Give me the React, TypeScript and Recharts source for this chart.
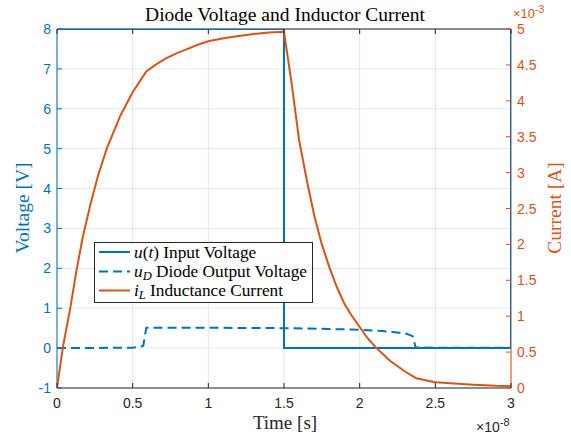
import React from 'react';
import { LineChart, Line, XAxis, YAxis, CartesianGrid } from 'recharts';

const BLUE = '#0072BD';
const ORANGE = '#D95319';
const DARK = '#262626';
const SANS = '"Liberation Sans", Arial, Helvetica, sans-serif';
const SERIF = '"Liberation Serif", "Times New Roman", serif';

// x axis in units of 1e-8 s
const timeTicks = [0, 0.5, 1, 1.5, 2, 2.5, 3];
const voltTicks = [-1, 0, 1, 2, 3, 4, 5, 6, 7, 8];
// current axis in units of 1e-3 A
const currentTicks = [0, 0.5, 1, 1.5, 2, 2.5, 3, 3.5, 4, 4.5, 5];

// u(t) input voltage
const uTime = [0, 1.5, 1.5, 3, 3];
const uVolt = [8, 8, 0, 0, 8];

// u_D diode output voltage
const udTime = [0, 0.5, 0.55, 0.57, 0.59, 1.0, 1.5, 1.8, 2.0, 2.15, 2.25, 2.31, 2.35, 2.37, 2.5, 3.0];
const udVolt = [0, 0.01, 0.03, 0.06, 0.51, 0.51, 0.5, 0.48, 0.46, 0.43, 0.39, 0.36, 0.3, 0.02, 0.01, 0.01];

// i_L inductance current (mA)
const iTime = [0, 0.04, 0.09, 0.13, 0.17, 0.22, 0.27, 0.33, 0.42, 0.5, 0.59, 0.65, 0.72, 0.8, 0.86, 0.93,
  1.0, 1.1, 1.19, 1.3, 1.4, 1.5,
  1.55, 1.6, 1.65, 1.7, 1.75, 1.8, 1.85, 1.9, 1.95, 2.0, 2.05, 2.1, 2.2, 2.3, 2.37,
  2.45, 2.5, 2.6, 2.75, 2.9, 3.0];
const iCurr = [0, 0.58, 1.14, 1.65, 2.1, 2.55, 2.95, 3.34, 3.8, 4.12, 4.41, 4.5, 4.59, 4.67, 4.72, 4.78,
  4.83, 4.87, 4.9, 4.93, 4.95, 4.96,
  4.25, 3.45, 2.9, 2.4, 2.0, 1.68, 1.4, 1.17, 1.0, 0.85, 0.7, 0.58, 0.38, 0.23, 0.14,
  0.1, 0.08, 0.065, 0.045, 0.03, 0.025];

const toPoints = (ts: number[], vs: number[]) => ts.map((t, i) => ({ t, v: vs[i] }));
const uData = toPoints(uTime, uVolt);
const udData = toPoints(udTime, udVolt);
const iData = toPoints(iTime, iCurr);

const TICK_LEN = 5;

const BottomTick = (props: any) => {
  const { x, y, payload } = props;
  const ay = y - 10;
  return (
    <g>
      <line x1={x} x2={x} y1={ay} y2={ay - TICK_LEN} stroke={DARK} strokeWidth={1} />
      <text x={x} y={y} dy="0.71em" textAnchor="middle" fill={DARK} fontSize={14} fontFamily={SANS}>
        {payload.value}
      </text>
    </g>
  );
};

const TopTick = (props: any) => {
  const { x, y } = props;
  return <line x1={x} x2={x} y1={y} y2={y + TICK_LEN} stroke={DARK} strokeWidth={1} />;
};

const LeftTick = (props: any) => {
  const { x, y, payload } = props;
  const ax = x + 6;
  return (
    <g>
      <line x1={ax} x2={ax + TICK_LEN} y1={y} y2={y} stroke={BLUE} strokeWidth={1} />
      <text x={x} y={y} dy="0.36em" textAnchor="end" fill={BLUE} fontSize={14} fontFamily={SANS}>
        {payload.value}
      </text>
    </g>
  );
};

const RightTick = (props: any) => {
  const { x, y, payload } = props;
  const ax = x - 6;
  return (
    <g>
      <line x1={ax} x2={ax - TICK_LEN} y1={y} y2={y} stroke={ORANGE} strokeWidth={1} />
      <text x={x} y={y} dy="0.36em" textAnchor="start" fill={ORANGE} fontSize={14} fontFamily={SANS}>
        {payload.value}
      </text>
    </g>
  );
};

export default function App() {
  return (
    <div style={{ position: 'absolute', left: 0, top: 0, width: 571, height: 437, background: '#fff' }}>
      <LineChart width={571} height={437} margin={{ top: 28, right: 0, bottom: 19, left: 0 }}>
        <CartesianGrid xAxisId="b" yAxisId="left" vertical={false} stroke="#dcebf6" strokeWidth={1} />
        <CartesianGrid xAxisId="b" yAxisId="left" horizontal={false} stroke="#e4e4e4" strokeWidth={1} />
        <XAxis
          xAxisId="b"
          dataKey="t"
          type="number"
          domain={[0, 3]}
          ticks={timeTicks}
          allowDataOverflow
          height={30}
          tickSize={0}
          tickMargin={10}
          tickLine={false}
          axisLine={{ stroke: DARK }}
          tick={<BottomTick />}
          interval={0}
        />
        <XAxis
          xAxisId="top"
          orientation="top"
          dataKey="t"
          type="number"
          domain={[0, 3]}
          ticks={timeTicks}
          allowDataOverflow
          height={1}
          tickSize={0}
          tickMargin={0}
          tickLine={false}
          axisLine={{ stroke: DARK }}
          tick={<TopTick />}
          interval={0}
        />
        <YAxis
          yAxisId="left"
          type="number"
          domain={[-1, 8]}
          ticks={voltTicks}
          allowDataOverflow
          width={57}
          tickSize={0}
          tickMargin={6}
          tickLine={false}
          axisLine={{ stroke: BLUE }}
          tick={<LeftTick />}
          interval={0}
        />
        <YAxis
          yAxisId="right"
          orientation="right"
          type="number"
          domain={[0, 5]}
          ticks={currentTicks}
          allowDataOverflow
          width={60}
          tickSize={0}
          tickMargin={6}
          tickLine={false}
          axisLine={{ stroke: ORANGE }}
          tick={<RightTick />}
          interval={0}
        />
        <Line
          xAxisId="b"
          yAxisId="left"
          data={uData}
          dataKey="v"
          type="linear"
          stroke={BLUE}
          strokeWidth={2}
          dot={false}
          zIndex={600}
          isAnimationActive={false}
        />
        <Line
          xAxisId="b"
          yAxisId="left"
          data={udData}
          dataKey="v"
          type="linear"
          stroke={BLUE}
          strokeWidth={2}
          strokeDasharray="9 5"
          dot={false}
          zIndex={600}
          isAnimationActive={false}
        />
        <Line
          xAxisId="b"
          yAxisId="right"
          data={iData}
          dataKey="v"
          type="linear"
          stroke={ORANGE}
          strokeWidth={2}
          dot={false}
          zIndex={601}
          isAnimationActive={false}
        />
      </LineChart>
      <svg
        width={571}
        height={437}
        style={{ position: 'absolute', left: 0, top: 0, pointerEvents: 'none' }}
      >
        <text x={285} y={21} textAnchor="middle" fontFamily={SERIF} fontSize={19.5} fill="#000">
          Diode Voltage and Inductor Current
        </text>
        <text x={285} y={429} textAnchor="middle" fontFamily={SERIF} fontSize={19} fill={DARK}>
          Time [s]
        </text>
        <text
          transform="translate(22,208) rotate(-90)"
          textAnchor="middle"
          dy="0.35em"
          fontFamily={SERIF}
          fontSize={19.5}
          fill={BLUE}
        >
          Voltage [V]
        </text>
        <text
          transform="translate(554,208) rotate(-90)"
          textAnchor="middle"
          dy="0.35em"
          fontFamily={SERIF}
          fontSize={19.5}
          fill={ORANGE}
        >
          Current [A]
        </text>
        <text x={476} y={432} fontFamily={SANS} fontSize={14} fill={DARK}>
          ×10
          <tspan fontSize={11} dy={-6}>-8</tspan>
        </text>
        <text x={513} y={18} fontFamily={SANS} fontSize={13} fill={ORANGE}>
          ×10
          <tspan fontSize={10.5} dy={-5}>-3</tspan>
        </text>
        <g>
          <rect x={94.5} y={242.5} width={218} height={60} fill="#fff" stroke={DARK} strokeWidth={1} />
          <line x1={99} x2={130} y1={252} y2={252} stroke={BLUE} strokeWidth={2} />
          <line x1={99} x2={130} y1={271.5} y2={271.5} stroke={BLUE} strokeWidth={2} strokeDasharray="9 5" />
          <line x1={99} x2={130} y1={290.5} y2={290.5} stroke={ORANGE} strokeWidth={2} />
          <text x={134} y={257.5} fontFamily={SERIF} fontSize={17.3} fill="#000">
            <tspan fontStyle="italic">u</tspan>(<tspan fontStyle="italic">t</tspan>) Input Voltage
          </text>
          <text x={134} y={277} fontFamily={SERIF} fontSize={17.3} fill="#000">
            <tspan fontStyle="italic">u</tspan>
            <tspan fontStyle="italic" fontSize={12.5} dy={3}>D</tspan>
            <tspan dy={-3}> Diode Output Voltage</tspan>
          </text>
          <text x={134} y={296} fontFamily={SERIF} fontSize={17.3} fill="#000">
            <tspan fontStyle="italic">i</tspan>
            <tspan fontStyle="italic" fontSize={12.5} dy={3}>L</tspan>
            <tspan dy={-3}> Inductance Current</tspan>
          </text>
        </g>
      </svg>
    </div>
  );
}
